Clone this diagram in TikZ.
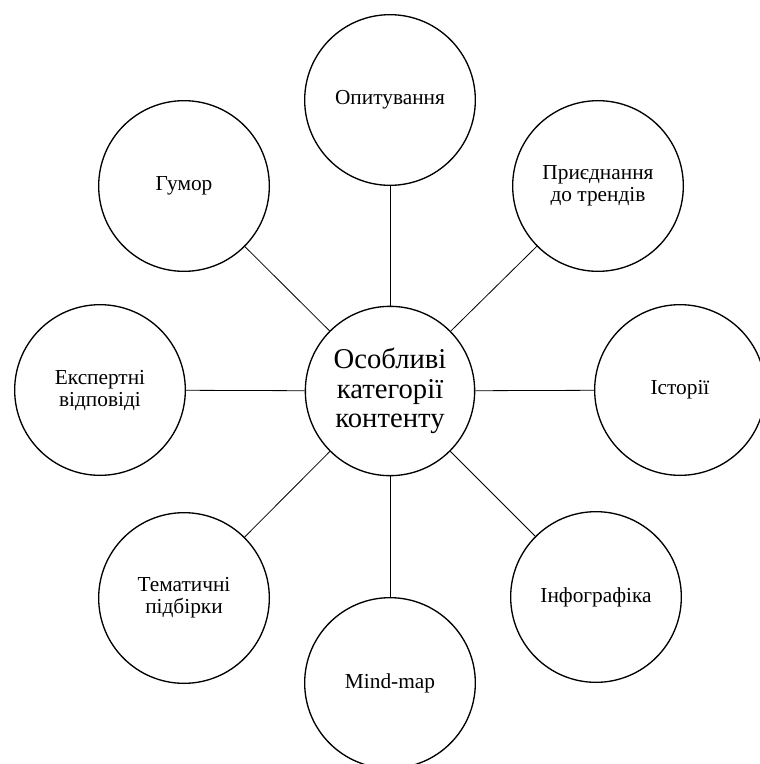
\documentclass[tikz,border=0pt]{standalone}
\usepackage{fontspec}
\setmainfont{Liberation Serif}
\newfontfamily\labelfont{Liberation Serif}
\begin{document}
\begin{tikzpicture}[x=0.75pt,y=-0.75pt,
  topic/.style={circle,draw,line width=1pt,minimum size=128pt,inner sep=0pt,
    align=center,font=\labelfont\fontsize{16}{16.5}\selectfont},
  hub/.style={circle,draw,line width=1pt,minimum size=127pt,inner sep=0pt,
    align=center,font=\labelfont\fontsize{21.5}{22}\selectfont},
  link/.style={line width=0.6pt}]
\useasboundingbox (0,0) rectangle (760,764);
% central node
\node[hub] (c) at (390,391) {Особливі\\категорії\\контенту};
% surrounding categories
\node[topic] (poll)   at (390,100) {Опитування};
\node[topic] (trend)  at (598,186) {Приєднання\\до трендів};
\node[topic] (story)  at (680,390) {Історії};
\node[topic] (info)   at (596,597) {Інфографіка};
\node[topic] (mind)   at (390,683) {Mind-map};
\node[topic] (select) at (184,598) {Тематичні\\підбірки};
\node[topic] (expert) at (100,390) {Експертні\\відповіді};
\node[topic] (humor)  at (184,186) {Гумор};
% spokes
\foreach \n in {poll,trend,story,info,mind,select,expert,humor}
  \draw[link] (c) -- (\n);
\end{tikzpicture}
\end{document}
